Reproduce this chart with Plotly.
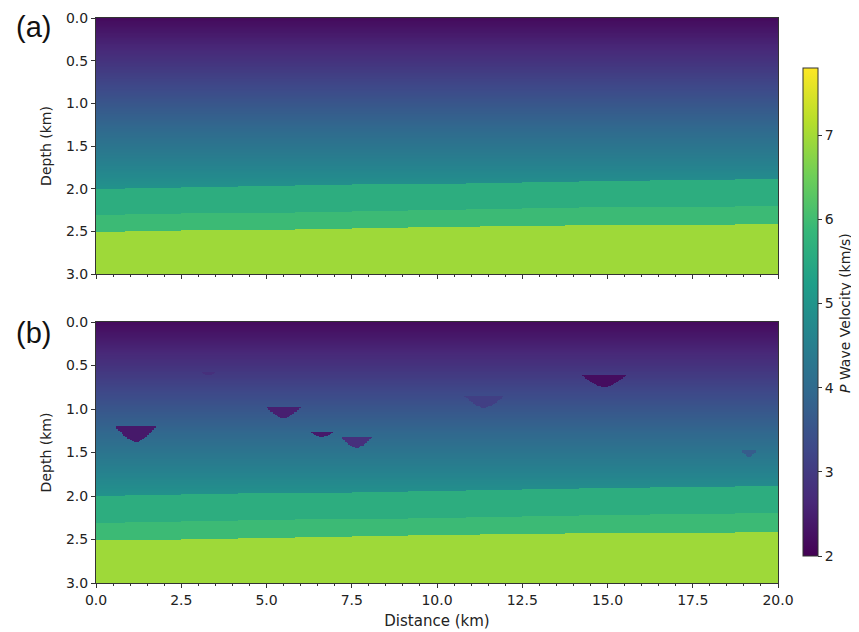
import numpy as np
import plotly.graph_objects as go

# ---------------- data ----------------
# grid
distance_km = np.round(np.arange(0.025, 20.0, 0.05), 4)
depth_km = np.round(np.arange(0.005, 3.0, 0.01), 4)

# top gradient layer: velocity at surface and velocity gradient (km/s per km)
surface_velocity = 2.15
velocity_gradient = 1.40

# interface depths at control distances (km)
control_distance = [0.0, 5.0, 10.0, 15.0, 20.0]
interface_top = [2.00, 1.97, 1.94, 1.91, 1.89]
interface_mid = [2.31, 2.28, 2.25, 2.22, 2.20]
interface_base = [2.51, 2.48, 2.45, 2.43, 2.41]

# layer velocities (km/s)
layer2_velocity = 5.62
layer3_velocity = 5.95
layer4_velocity = 6.95

# low-velocity anomalies (panel b): centre distance, half width, top depth, thickness, velocity
anomaly_center = [1.17, 3.30, 5.50, 6.62, 7.64, 11.38, 14.90, 19.15]
anomaly_halfwidth = [0.60, 0.25, 0.49, 0.33, 0.45, 0.57, 0.65, 0.23]
anomaly_top = [1.20, 0.575, 0.985, 1.27, 1.32, 0.85, 0.61, 1.47]
anomaly_thickness = [0.18, 0.04, 0.12, 0.05, 0.13, 0.14, 0.14, 0.08]
anomaly_velocity = [2.40, 2.80, 2.50, 2.40, 2.80, 3.10, 2.20, 3.70]

depth_ticks = [0.0, 0.5, 1.0, 1.5, 2.0, 2.5, 3.0]
distance_ticks = [0.0, 2.5, 5.0, 7.5, 10.0, 12.5, 15.0, 17.5, 20.0]
colorbar_ticks = [2, 3, 4, 5, 6, 7]
vmin, vmax = 2.0, 7.8

# ---------------- build velocity models ----------------
X, Z = np.meshgrid(distance_km, depth_km)
top_i = np.interp(distance_km, control_distance, interface_top)[None, :]
mid_i = np.interp(distance_km, control_distance, interface_mid)[None, :]
base_i = np.interp(distance_km, control_distance, interface_base)[None, :]

model_a = surface_velocity + velocity_gradient * Z
model_a = np.where(Z >= top_i, layer2_velocity, model_a)
model_a = np.where(Z >= mid_i, layer3_velocity, model_a)
model_a = np.where(Z >= base_i, layer4_velocity, model_a)

model_b = model_a.copy()
for cx, hw, tp, th, v in zip(anomaly_center, anomaly_halfwidth, anomaly_top,
                             anomaly_thickness, anomaly_velocity):
    u = np.abs((X - cx) / hw)
    inside = (Z >= tp) & (u <= 1.0) & ((Z - tp) <= th * (1.0 - np.minimum(u, 1.0) ** 1.6))
    model_b = np.where(inside, v, model_b)

model_a = np.round(model_a, 3)
model_b = np.round(model_b, 3)

# ---------------- figure ----------------
# page body has an 8px margin: draw an 851x624 figure offset by 8px
OFF = 8
W, H = 859 - OFF, 632 - OFF
px = lambda v: (v - OFF) / W
py = lambda v: 1 - (v - OFF) / H

fig = go.Figure()
common = dict(x=distance_km, y=depth_km, colorscale="Viridis", zmin=vmin, zmax=vmax,
              zsmooth=False, hoverinfo="skip")
fig.add_trace(go.Heatmap(z=model_a, xaxis="x", yaxis="y", showscale=False, **common))
fig.add_trace(go.Heatmap(
    z=model_b, xaxis="x2", yaxis="y2", showscale=True,
    colorbar=dict(
        x=px(803), xanchor="left", y=py(556), yanchor="bottom",
        xpad=0, ypad=0,
        lenmode="pixels", len=488, thicknessmode="pixels", thickness=15,
        outlinecolor="#333", outlinewidth=1,
        tickmode="array", tickvals=colorbar_ticks, ticks="outside", ticklen=4,
        tickcolor="#333", tickfont=dict(family="DejaVu Sans", size=14, color="#222"),
    ),
    **common))

axfont = dict(family="DejaVu Sans", size=14, color="#222")
xcommon = dict(range=[0, 20], tickmode="array", tickvals=distance_ticks, tickformat=".1f",
               ticks="outside", ticklen=4, tickcolor="#333", showline=True, linecolor="#333",
               linewidth=1, mirror=True, showgrid=False, zeroline=False, tickfont=axfont,
               minor=dict(dtick=0.5, tick0=0, ticks="outside", ticklen=2, tickcolor="#333"),
               automargin=False)
ycommon = dict(range=[3, 0], tickmode="array", tickvals=depth_ticks, tickformat=".1f",
               ticks="outside", ticklen=4, tickcolor="#333", showline=True, linecolor="#333",
               linewidth=1, mirror=True, showgrid=False, zeroline=False, tickfont=axfont,
               title=dict(text="Depth (km)", font=axfont, standoff=11), automargin=False)

fig.update_layout(
    width=W, height=H, margin=dict(l=0, r=0, t=0, b=0, autoexpand=False),
    paper_bgcolor="white", plot_bgcolor="white",
    xaxis=dict(domain=[px(96), px(778)], anchor="y", showticklabels=False, **xcommon),
    yaxis=dict(domain=[py(274), py(18)], anchor="x", **ycommon),
    xaxis2=dict(domain=[px(96), px(778)], anchor="y2",
                title=dict(text="Distance (km)", font=dict(axfont, size=15), standoff=8),
                **xcommon),
    yaxis2=dict(domain=[py(583), py(322)], anchor="x2", **ycommon),
    annotations=[
        dict(text="(a)", x=px(33), y=py(27), xref="paper", yref="paper", showarrow=False,
             xanchor="center", yanchor="middle",
             font=dict(family="Liberation Sans", size=29, color="#111")),
        dict(text="(b)", x=px(33), y=py(333), xref="paper", yref="paper", showarrow=False,
             xanchor="center", yanchor="middle",
             font=dict(family="Liberation Sans", size=29, color="#111")),
        dict(text="<i>P</i> Wave Velocity (km/s)", x=px(845), y=py(313),
             xref="paper", yref="paper", showarrow=False, textangle=-90,
             xanchor="center", yanchor="middle",
             font=dict(family="DejaVu Sans", size=14, color="#222")),
    ],
)

fig.write_html("out.html")
